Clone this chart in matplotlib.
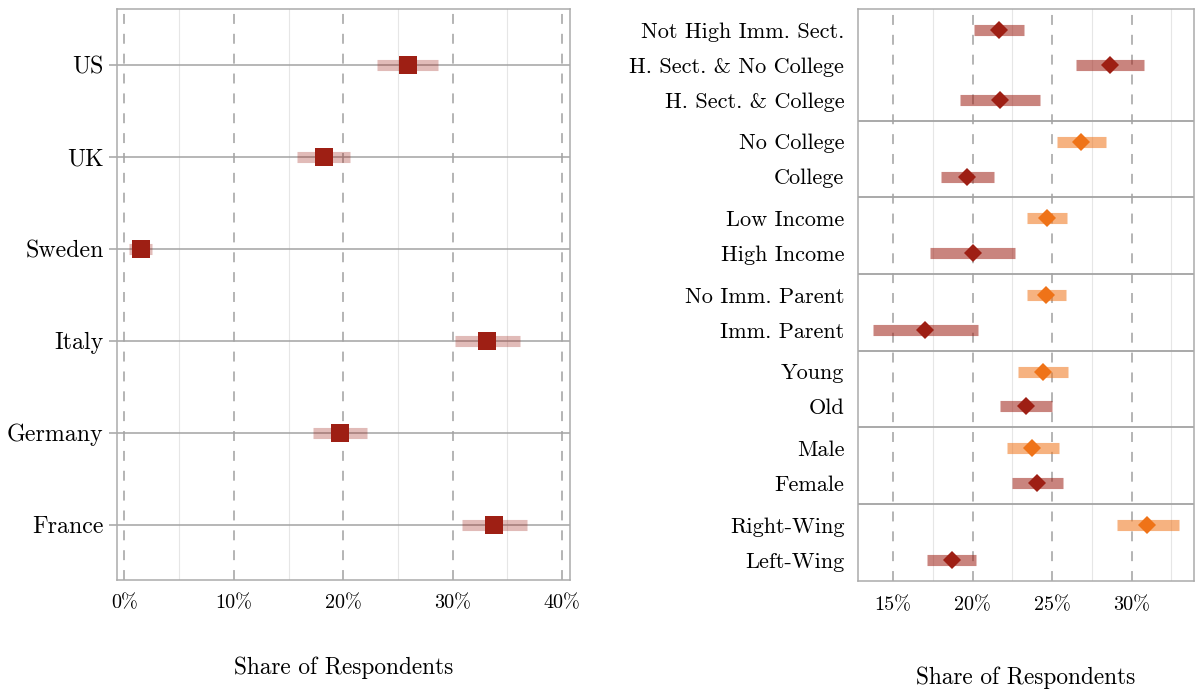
import matplotlib
matplotlib.use("Agg")
import matplotlib.pyplot as plt

plt.rcParams["font.family"] = ["cmr10", "DejaVu Serif"]
plt.rcParams["mathtext.fontset"] = "cm"
plt.rcParams["axes.formatter.use_mathtext"] = True
plt.rcParams["axes.unicode_minus"] = False

# ---------------- data: left panel (countries) ----------------
countries = ["US", "UK", "Sweden", "Italy", "Germany", "France"]
country_est = [25.9, 18.2, 1.47, 33.18, 19.70, 33.77]
country_lo = [23.13, 15.78, 0.45, 30.24, 17.22, 30.83]
country_hi = [28.66, 20.65, 2.55, 36.19, 22.22, 36.78]
left_ticks = [0, 10, 20, 30, 40]
left_ticklabels = ["0%", "10%", "20%", "30%", "40%"]
left_minor = [5, 15, 25, 35]

# ---------------- data: right panel (subgroups) ----------------
sub_labels = ["Not High Imm. Sect.", "H. Sect. & No College", "H. Sect. & College",
              "No College", "College",
              "Low Income", "High Income",
              "No Imm. Parent", "Imm. Parent",
              "Young", "Old",
              "Male", "Female",
              "Right-Wing", "Left-Wing"]
sub_est = [21.65, 28.64, 21.70, 26.82, 19.67, 24.69, 20.00, 24.64, 17.01,
           24.40, 23.35, 23.73, 24.07, 30.98, 18.68]
sub_lo = [20.10, 26.51, 19.19, 25.29, 18.01, 23.44, 17.34, 23.44, 13.76,
          22.87, 21.72, 22.15, 22.49, 29.07, 17.15]
sub_hi = [23.25, 30.77, 24.23, 28.37, 21.36, 25.96, 22.66, 25.86, 20.31,
          26.00, 25.02, 25.41, 25.69, 32.97, 20.24]
sub_highlight = [0, 0, 0, 1, 0, 1, 0, 1, 0, 1, 0, 1, 0, 1, 0]
group_sizes = [3, 2, 2, 2, 2, 2, 2]
right_ticks = [15, 20, 25, 30]
right_ticklabels = ["15%", "20%", "25%", "30%"]
right_minor = [17.5, 22.5, 27.5, 32.5]

# ---------------- styling ----------------
DARK = "#9e1f14"
ORANGE = "#ef7318"
FRAME = "#ababab"
LINE = "#a3a3a3"
DASH = "#a0a0a0"
MINOR = "#e6e6e6"

W, H = 1198, 690
fig = plt.figure(figsize=(W / 100, H / 100), dpi=100)
axL = fig.add_axes([116.8 / W, (H - 580) / H, (570.4 - 116.8) / W, (580 - 9.3) / H])
axR = fig.add_axes([858.2 / W, (H - 580.7) / H, (1194 - 858.2) / W, (580.7 - 9.3) / H])

# ---------------- left panel ----------------
ysL = list(range(1, len(countries) + 1))
for x in left_minor:
    axL.axvline(x, color=MINOR, lw=0.8, zorder=0)
for x in left_ticks:
    axL.axvline(x, color=DASH, lw=1.1, dashes=(6.5, 6.5), zorder=0.5)
for y in ysL:
    axL.axhline(y, color=LINE, lw=1.1, zorder=1)
for y, e, lo, hi in zip(ysL, country_est, country_lo, country_hi):
    axL.plot([lo, hi], [y, y], color=DARK, alpha=0.3, lw=8, solid_capstyle="butt", zorder=2)
    axL.plot([e], [y], marker="s", ms=13.2, color=DARK, mew=0, zorder=3)
axL.set_xlim(-0.7, 40.77)
axL.set_ylim(6.6, 0.4)
axL.set_yticks(ysL, countries)
axL.set_xticks(left_ticks, left_ticklabels)
axL.tick_params(axis="y", length=5.8, width=1.1, color=LINE, pad=3.6, labelsize=17.2)
axL.tick_params(axis="x", length=0, pad=10.5, labelsize=14.5)

# ---------------- right panel ----------------
ysR = []
seps = []
cur = 0.0
for n in group_sizes:
    for k in range(n):
        ysR.append(cur + 0.6 + k)
    cur = cur + n - 1 + 1.2
    seps.append(cur)
for x in right_minor:
    axR.axvline(x, color=MINOR, lw=0.8, zorder=0)
for x in right_ticks:
    axR.axvline(x, color=DASH, lw=1.1, dashes=(6.5, 6.5), zorder=0.5)
for s in seps[:-1]:
    axR.axhline(s, color=LINE, lw=1.3, zorder=1)
for y, e, lo, hi, h in zip(ysR, sub_est, sub_lo, sub_hi, sub_highlight):
    c = ORANGE if h else DARK
    axR.plot([lo, hi], [y, y], color=c, alpha=0.55, lw=8, solid_capstyle="butt", zorder=2)
    axR.plot([e], [y], marker="D", ms=9, color=c, mew=0, zorder=3)
axR.set_xlim(12.8, 33.92)
axR.set_ylim(cur, 0)
axR.set_yticks(ysR, sub_labels)
axR.set_xticks(right_ticks, right_ticklabels)
axR.tick_params(axis="y", length=0, pad=10, labelsize=16)
axR.tick_params(axis="x", length=0, pad=11.5, labelsize=14.5)

for ax in (axL, axR):
    for sp in ax.spines.values():
        sp.set_color(FRAME)
        sp.set_linewidth(1.1)

fig.text(343.6 / W, 1 - 668 / H, "Share of Respondents", ha="center", va="center", fontsize=16.8)
fig.text(1026 / W, 1 - 678 / H, "Share of Respondents", ha="center", va="center", fontsize=16.8)

fig.savefig("out.png", dpi=100)
